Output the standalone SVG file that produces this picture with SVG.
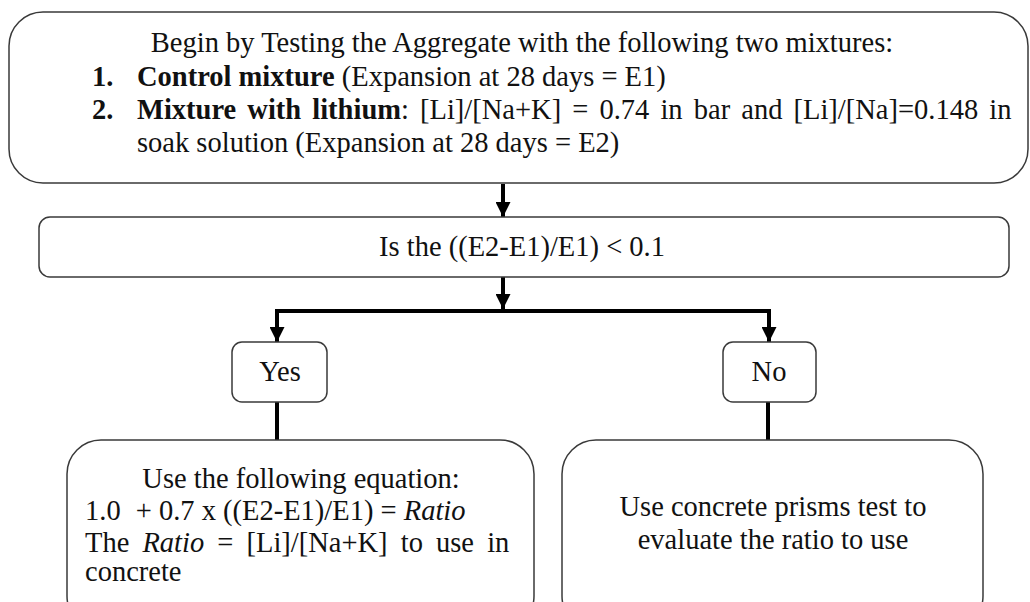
<svg xmlns="http://www.w3.org/2000/svg" width="1030" height="602" viewBox="0 0 1030 602">
<defs>
<style>
.box{fill:#fff;stroke:#3a3a3a;stroke-width:1.5}
.t{font-family:"Liberation Serif","Times New Roman",serif;font-size:28.5px;fill:#111}
.b{font-weight:bold}
.i{font-style:italic}
.c{text-anchor:middle}
.con{fill:none;stroke:#000;stroke-width:4}
</style>
<marker id="ah" viewBox="0 0 15 15" refX="15" refY="7.5" markerWidth="15" markerHeight="15" markerUnits="userSpaceOnUse" orient="auto">
<path d="M0,0 L15,7.5 L0,15 z" fill="#000"/>
</marker>
</defs>
<rect width="1030" height="602" fill="#fff"/>
<g id="connectors">
<line class="con" x1="503" y1="184" x2="503" y2="217" marker-end="url(#ah)"/>
<line class="con" x1="503" y1="277" x2="503" y2="309" marker-end="url(#ah)"/>
<polyline class="con" points="277,325 277,311 769,311 769,325"/>
<line class="con" x1="277" y1="313" x2="277" y2="342" marker-end="url(#ah)"/>
<line class="con" x1="769" y1="313" x2="769" y2="342" marker-end="url(#ah)"/>
<line class="con" x1="277" y1="402" x2="277" y2="440"/>
<line class="con" x1="768" y1="402" x2="768" y2="440"/>
</g>
<g id="start">
<rect class="box" x="9" y="12" width="1019" height="171" rx="34" ry="34"/>
<text class="t c" x="522" y="52">Begin by Testing the Aggregate with the following two mixtures:</text>
<text class="t b" x="92" y="86">1.</text>
<text class="t" x="137" y="86"><tspan class="b">Control mixture</tspan> (Expansion at 28 days = E1)</text>
<text class="t b" x="92" y="119">2.</text>
<text class="t" x="137" y="119" style="word-spacing:4px"><tspan class="b">Mixture with lithium</tspan>: [Li]/[Na+K] = 0.74 in bar and [Li]/[Na]=0.148 in</text>
<text class="t" x="137" y="152">soak solution (Expansion at 28 days = E2)</text>
</g>
<g id="decision">
<rect class="box" x="39" y="217" width="970" height="60" rx="11" ry="11"/>
<text class="t c" x="522" y="256">Is the ((E2-E1)/E1) &lt; 0.1</text>
</g>
<g id="yes">
<rect class="box" x="232" y="342" width="95" height="60" rx="10" ry="10"/>
<text class="t c" x="280" y="381">Yes</text>
</g>
<g id="no">
<rect class="box" x="723" y="342" width="93" height="60" rx="10" ry="10"/>
<text class="t c" x="769" y="381">No</text>
</g>
<g id="equation">
<rect class="box" x="67" y="440" width="467" height="190" rx="34" ry="34"/>
<text class="t c" x="301" y="488">Use the following equation:</text>
<text class="t" x="85" y="520">1.0 <tspan dx="8">+ 0.7 x ((E2-E1)/E1) = </tspan><tspan class="i">Ratio</tspan></text>
<text class="t" x="85" y="552" style="word-spacing:6px">The <tspan class="i">Ratio</tspan> = [Li]/[Na+K] to use in</text>
<text class="t" x="85" y="581">concrete</text>
</g>
<g id="prisms">
<rect class="box" x="562" y="440" width="421" height="190" rx="34" ry="34"/>
<text class="t c" x="773" y="516">Use concrete prisms test to</text>
<text class="t c" x="773" y="549">evaluate the ratio to use</text>
</g>
</svg>
